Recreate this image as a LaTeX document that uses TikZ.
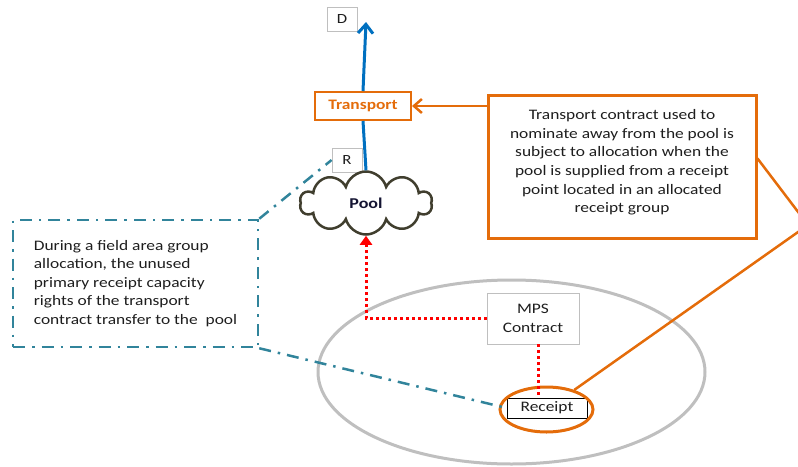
\documentclass[tikz,border=0pt]{standalone}
\usepackage{fontspec}
\setmainfont{Carlito}[FakeStretch=1.2]
\usepackage{tikz}
\usetikzlibrary{positioning}
\usetikzlibrary{shapes.symbols}
\usetikzlibrary{shapes.geometric}
\usetikzlibrary{arrows.meta}

\definecolor{orng}{RGB}{228,108,10}
\definecolor{blu}{RGB}{0,112,192}
\definecolor{teal}{RGB}{49,132,155}
\definecolor{gline}{RGB}{191,191,191}
\definecolor{cloudc}{RGB}{64,62,46}
\definecolor{txt}{RGB}{30,30,30}
\definecolor{navy}{RGB}{20,20,50}

\begin{document}
\begin{tikzpicture}[x=1pt,y=-1pt,
  font=\fontsize{14.5}{18.6}\selectfont,
  gbox/.style={draw=gline,line width=0.8pt,fill=white,inner sep=0pt,text=txt},
  obox/.style={draw=orng,fill=white,inner sep=0pt},
  tealdash/.style={draw=teal,line width=2.5pt,dash pattern=on 12pt off 7pt on 2.5pt off 7pt},
  reddot/.style={draw=red,line width=3pt,dash pattern=on 3pt off 3pt},
  blueline/.style={draw=blu,line width=3pt},
  oline/.style={draw=orng,line width=2.5pt}]
  \useasboundingbox (0,0) rectangle (798,466);
  \clip (0,0) rectangle (798,466);
  \draw[gline,line width=3pt] (511.5,372) ellipse (193.5 and 92);

  \node[gbox,minimum width=30,minimum height=24,font=\fontsize{14}{15}\selectfont] (dbox) at (342,19) {D};
  \node[gbox,minimum width=30,minimum height=24,font=\fontsize{14}{15}\selectfont] (rbox) at (347,160) {R};
  \node[obox,line width=2pt,minimum width=96,minimum height=28,text=orng,font=\fontsize{14.5}{18}\selectfont\bfseries] (tport) at (363,106) {Transport};
  \node[cloud,cloud puffs=10,aspect=2.2,draw=cloudc,line width=2.5pt,fill=white,inner sep=0pt,minimum width=132,minimum height=63,text=navy,font=\fontsize{15}{18}\selectfont\bfseries] (pool) at (366,203) {Pool};
  \node[obox,line width=3pt,minimum width=268,minimum height=143,align=center,text=txt] (info) at (622,166.5) {Transport contract used to\\nominate away from the pool is\\subject to allocation when the\\pool is supplied from a receipt\\point located in an allocated\\receipt group\\[-8pt]\mbox{}};
  \node[draw=teal,line width=2.5pt,dash pattern=on 12pt off 7pt on 2.5pt off 7pt,minimum width=245,minimum height=127,align=left,text=txt] (field) at (135.5,283.5) {During a field area group\\allocation, the unused\\primary receipt capacity\\rights of the transport\\contract transfer to the\ \ pool};
  \node[gbox,minimum width=92,minimum height=51,align=center] (mps) at (533,318.5) {MPS\\Contract};
  \node[draw=black,line width=0.8pt,fill=white,inner sep=0pt,minimum width=80,minimum height=20,text=txt] (rcpt) at (547,408) {Receipt};
  \node[ellipse,draw=orng,line width=3pt,minimum width=93,minimum height=45] (rring) at (546.5,409.5) {};

  \coordinate (dtip) at (366,22);
  \coordinate (bend) at (808,225);
  \draw[blueline] (pool.north) -- (tport.south);
  \draw[blueline,-{Straight Barb[length=9pt,width=15pt]}] (tport.north) -- (dtip);
  \draw[oline,-{Straight Barb[length=8pt,width=14pt]}] (info.west |- tport.east) -- (tport.east);
  \draw[oline] ([yshift=8pt]info.east) -- (bend) -- (rring);
  \draw[reddot,-{Triangle[length=9pt,width=12pt]}] (mps.west) -| (pool.south);
  \draw[reddot] ([xshift=5pt]mps.south) -- ([xshift=5pt]mps.south |- rcpt.north);
  \draw[tealdash] (field.north east) -- (rbox.west);
  \draw[tealdash] (field.south east) -- (rcpt.west);
\end{tikzpicture}
\end{document}
